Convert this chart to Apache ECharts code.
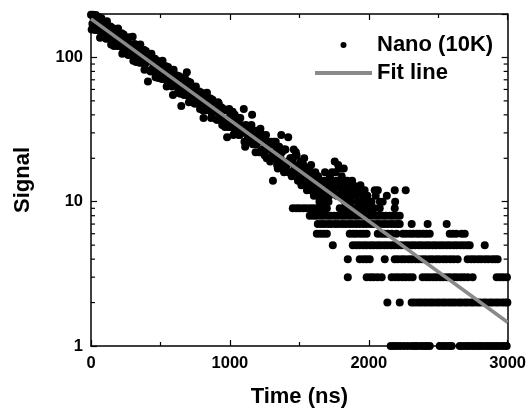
<!DOCTYPE html>
<html>
<head>
<meta charset="utf-8">
<script src="https://cdn.jsdelivr.net/npm/echarts@6/dist/echarts.min.js"></script>
<style>
  html, body { margin: 0; padding: 0; background: #fff; }
  #chart { width: 529px; height: 413px; }
</style>
</head>
<body>
<div id="chart"></div>
<script>
// early part of the decay: two interleaved sample sets, 10 ns apart (offsets 0 ns and 5 ns)
const sampleStepNs = 10;
const earlySignalA = [
  198, 171, 184, 155, 185, 167, 190, 150, 164, 152,
  170, 135, 158, 148, 164, 133, 157, 132, 142, 120,
  143, 129, 147, 116, 127, 118, 132, 104, 123, 115,
  139, 103, 121, 102, 110, 92, 111, 100, 113, 90,
  98, 68, 101, 80, 95, 89, 98, 80, 94, 79,
  85, 71, 86, 77, 87, 69, 76, 70, 78, 55,
  73, 68, 75, 62, 73, 46, 66, 55, 66, 79,
  68, 54, 59, 54, 60, 48, 56, 52, 58, 48,
  56, 38, 51, 43, 51, 46, 52, 41, 45, 42,
  47, 37, 48, 41, 45, 37, 43, 36, 28, 33,
  39, 36, 42, 32, 35, 32, 38, 29, 34, 32,
  44, 24, 33, 28, 30, 26, 40, 27, 31, 25,
  27, 22, 32, 23, 28, 21, 29, 23, 25, 19,
  25, 14, 22, 26, 18, 22, 19, 29, 23, 16,
  23, 18, 28, 16, 20
];
const earlySignalB = [
  156, 198, 169, 197, 155, 179, 137, 187, 158, 173,
  136, 178, 141, 153, 123, 160, 120, 156, 130, 159,
  120, 139, 106, 144, 122, 134, 105, 138, 109, 118,
  95, 124, 93, 121, 101, 123, 92, 107, 82, 111,
  94, 103, 81, 106, 84, 91, 73, 95, 72, 93,
  78, 95, 71, 83, 63, 86, 73, 80, 63, 82,
  65, 71, 57, 74, 56, 72, 60, 73, 55, 64,
  49, 67, 56, 62, 48, 63, 50, 55, 44, 57,
  43, 56, 46, 57, 43, 49, 38, 51, 44, 48,
  37, 49, 39, 42, 34, 44, 33, 43, 36, 44,
  33, 38, 29, 40, 34, 37, 29, 38, 30, 33,
  26, 34, 26, 33, 28, 34, 25, 29, 22, 31,
  26, 28, 22, 29, 23, 25, 20, 26, 20, 26,
  21, 26, 20, 23, 17, 24, 20, 22, 17, 23,
  18, 19, 16, 20, 15
];

// later points with signal >= 10
const midTimes = [1450, 1455, 1460, 1465, 1470, 1475, 1480, 1485, 1490, 1495, 1500, 1505, 1510, 1515,
  1520, 1525, 1530, 1535, 1540, 1545, 1550, 1555, 1560, 1565, 1570, 1575, 1580, 1585, 1595, 1600,
  1605, 1610, 1615, 1620, 1625, 1630, 1635, 1640, 1645, 1655, 1660, 1665, 1670, 1675, 1680, 1685,
  1690, 1695, 1700, 1705, 1710, 1715, 1720, 1725, 1730, 1735, 1740, 1745, 1755, 1760, 1765, 1770,
  1775, 1780, 1785, 1790, 1795, 1800, 1805, 1810, 1815, 1820, 1825, 1830, 1835, 1840, 1845, 1850,
  1855, 1860, 1865, 1870, 1875, 1880, 1890, 1900, 1910, 1920, 1930, 1940, 1950, 1960, 1970, 1980,
  1990, 2000, 2020, 2043, 2050, 2065, 2080, 2100, 2130, 2187, 2190, 2266];
const midSignal = [19, 20, 23, 17, 16, 22, 21, 15, 14, 18, 17, 16, 19, 13,
  15, 17, 18, 20, 14, 15, 16, 12, 13, 16, 17, 14, 12, 18, 13, 15,
  11, 13, 16, 14, 12, 11, 15, 13, 10, 14, 12, 13, 10, 11, 14, 16,
  11, 12, 13, 14, 10, 11, 15, 13, 12, 16, 14, 12, 19, 16, 14, 11,
  13, 18, 17, 13, 11, 12, 15, 14, 12, 17, 13, 10, 11, 13, 14, 11,
  10, 12, 12, 10, 11, 14, 13, 12, 11, 10, 12, 13, 10, 11, 12, 10,
  11, 10, 10, 12, 11, 12, 10, 10, 11, 12, 10, 12];

// low counts: times (ns) at which each integer level was recorded
const level1Times = [2158, 2180, 2201, 2226, 2252, 2280, 2309, 2331, 2350, 2376, 2398, 2418, 2439,
  2511, 2534, 2555, 2579, 2597, 2655, 2676, 2701, 2722, 2746, 2767, 2791, 2811, 2836, 2858, 2881,
  2903, 2924, 2949, 2970, 2993];
const level2Times = [2134, 2223, 2309, 2330, 2354, 2375, 2399, 2420, 2443, 2464, 2488, 2509, 2533,
  2554, 2578, 2600, 2621, 2646, 2666, 2691, 2711, 2736, 2756, 2781, 2801, 2826, 2846, 2871, 2891,
  2916, 2936, 2961, 2981, 2998];
const level3Times = [1849, 1985, 2011, 2034, 2063, 2093, 2165, 2191, 2214, 2241, 2264, 2291, 2316,
  2388, 2413, 2436, 2463, 2486, 2513, 2536, 2563, 2586, 2613, 2636, 2663, 2686, 2713, 2748,
  2921, 2946, 2969, 2995];
const level4Times = [1849, 1935, 1961, 1984, 2007, 2115, 2187, 2209, 2236, 2259, 2286, 2309, 2336,
  2359, 2386, 2409, 2436, 2459, 2486, 2509, 2536, 2559, 2586, 2611, 2640, 2712, 2738, 2761, 2788,
  2811, 2838, 2861, 2888, 2909, 2928];
const level5Times = [1741, 1885, 1911, 1934, 1961, 1984, 2011, 2034, 2061, 2084, 2111, 2134, 2161,
  2184, 2211, 2234, 2261, 2284, 2311, 2334, 2361, 2384, 2411, 2434, 2461, 2484, 2511, 2534, 2561,
  2584, 2611, 2634, 2661, 2684, 2709, 2727, 2835];
const level6Times = [1626, 1651, 1675, 1698, 1863, 1889, 1911, 1938, 1961, 1985, 2065, 2091, 2114,
  2137, 2165, 2200, 2245, 2269, 2296, 2319, 2346, 2367, 2393, 2415, 2439, 2583, 2606, 2630, 2669, 2691];
const level7Times = [1633, 1659, 1682, 1709, 1732, 1759, 1782, 1809, 1832, 1859, 1882, 1909, 1932,
  1959, 1982, 2009, 2032, 2059, 2082, 2109, 2132, 2159, 2182, 2206, 2223, 2309, 2424, 2561];
const level8Times = [1575, 1601, 1624, 1651, 1674, 1701, 1724, 1751, 1774, 1801, 1824, 1851, 1874,
  1901, 1924, 1951, 1974, 2001, 2024, 2051, 2074, 2101, 2124, 2151, 2174, 2201, 2223];
const level9Times = [1453, 1479, 1502, 1529, 1552, 1579, 1602, 1629, 1652, 1679, 1698, 1791, 1817,
  1840, 1867, 1890, 1917, 1940, 1967, 1990, 2017, 2040, 2079, 2187];

// exponential fit, straight on the log axis
const fitTimes = [0, 3000];
const fitSignal = [185, 1.46];

const xLabels = [0, 1000, 2000, 3000];
const yLabels = [1, 10, 100];
const yMinorTicks = [2, 3, 4, 5, 6, 7, 8, 9, 20, 30, 40, 50, 60, 70, 80, 90];

const FONT = "'Liberation Sans', Arial, Helvetica, sans-serif";

const levelRows = [level1Times, level2Times, level3Times, level4Times, level5Times,
  level6Times, level7Times, level8Times, level9Times];

let points = earlySignalA.map((v, i) => [i * sampleStepNs, v]);
points = points.concat(earlySignalB.map((v, i) => [i * sampleStepNs + sampleStepNs / 2, v]));
points = points.concat(midTimes.map((t, i) => [t, midSignal[i]]));
levelRows.forEach((row, idx) => {
  row.forEach(t => points.push([t, idx + 1]));
});

let chartDom = document.getElementById("chart");
let myChart = echarts.init(chartDom);
let option;

const axisLine = { show: true, onZero: false, lineStyle: { color: "#000", width: 1.5 } };
const axisTick = { show: true, inside: true, length: 6, lineStyle: { color: "#000", width: 1.2 } };
const titleStyle = { fontSize: 22, fontWeight: "bold", color: "#000", fontFamily: FONT };

option = {
  animation: false,
  grid: { left: 91, right: 21, top: 14, bottom: 64 },
  legend: {
    orient: "vertical",
    left: 310,
    top: 29,
    itemWidth: 57,
    itemHeight: 6,
    itemGap: 6,
    textStyle: titleStyle,
    data: [
      { name: "Nano (10K)", icon: "circle" },
      { name: "Fit line", icon: "path://M0,0L57,0L57,4L0,4Z" }
    ]
  },
  xAxis: [
    {
      type: "value",
      min: 0,
      max: 3000,
      interval: 1000,
      name: "Time (ns)",
      nameLocation: "middle",
      nameGap: 40,
      nameTextStyle: titleStyle,
      axisLine: axisLine,
      axisTick: axisTick,
      minorTick: { show: true, splitNumber: 2, length: 4, lineStyle: { color: "#000", width: 1.2 } },
      axisLabel: {
        fontSize: 16.5, fontWeight: "bold", color: "#000", fontFamily: FONT, margin: 9,
        formatter: v => (xLabels.includes(v) ? String(v) : "")
      },
      splitLine: { show: false }
    },
    {
      type: "value",
      position: "top",
      min: 0,
      max: 3000,
      interval: 1000,
      axisLine: axisLine,
      axisTick: axisTick,
      minorTick: { show: true, splitNumber: 2, length: 4, lineStyle: { color: "#000", width: 1.2 } },
      axisLabel: { show: false },
      splitLine: { show: false }
    }
  ],
  yAxis: [
    {
      type: "log",
      logBase: 10,
      min: 1,
      max: 200,
      name: "Signal",
      nameLocation: "middle",
      nameGap: 57,
      nameTextStyle: titleStyle,
      axisLine: axisLine,
      axisTick: axisTick,
      axisLabel: {
        fontSize: 16.5, fontWeight: "bold", color: "#000", fontFamily: FONT, margin: 8,
        formatter: v => (yLabels.includes(Math.round(v)) && Math.abs(v - Math.round(v)) < 1e-6 ? String(Math.round(v)) : "")
      },
      splitLine: { show: false }
    },
    {
      type: "log",
      logBase: 10,
      position: "right",
      min: 1,
      max: 200,
      axisLine: axisLine,
      axisTick: axisTick,
      axisLabel: { show: false },
      splitLine: { show: false }
    }
  ],
  series: [
    {
      name: "Nano (10K)",
      type: "scatter",
      symbol: "circle",
      symbolSize: 8,
      itemStyle: { color: "#000", opacity: 1 },
      z: 2,
      data: points
    },
    {
      name: "Fit line",
      type: "line",
      symbol: "none",
      lineStyle: { color: "#8a8a8a", width: 3.5 },
      itemStyle: { color: "#8a8a8a" },
      z: 3,
      data: fitTimes.map((t, i) => [t, fitSignal[i]])
    },
    {
      type: "custom",
      silent: true,
      z: 4,
      data: yMinorTicks.map(v => [0, v]),
      encode: { x: 0, y: 1 },
      renderItem: function (params, api) {
        const v = api.value(1);
        const l = api.coord([0, v]);
        const r = api.coord([3000, v]);
        return {
          type: "group",
          children: [
            { type: "line", shape: { x1: l[0], y1: l[1], x2: l[0] + 4, y2: l[1] }, style: { stroke: "#000", lineWidth: 1.2 } },
            { type: "line", shape: { x1: r[0], y1: r[1], x2: r[0] - 4, y2: r[1] }, style: { stroke: "#000", lineWidth: 1.2 } }
          ]
        };
      }
    }
  ]
};

option && myChart.setOption(option);
</script>
</body>
</html>
